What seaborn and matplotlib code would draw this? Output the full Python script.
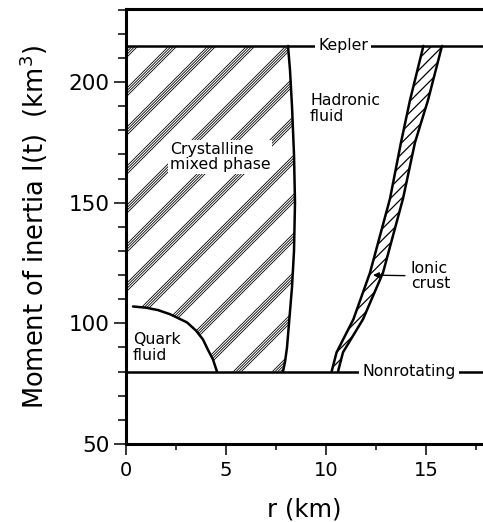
import numpy as np
import matplotlib.pyplot as plt
import seaborn as sns
from matplotlib.patches import Polygon
from matplotlib.ticker import MultipleLocator

# values
I_kepler = 215
I_nonrot = 80

# hadronic fluid / mixed phase boundary
hadron_I = [80, 84, 90, 100, 115, 130, 150, 170, 190, 205, 215]
hadron_r = [7.85, 7.95, 8.05, 8.15, 8.3, 8.4, 8.45, 8.4, 8.3, 8.2, 8.1]

# quark fluid boundary
quark_r = [0.35, 1.0, 1.6, 2.2, 3.05, 3.5, 3.85, 4.1, 4.35, 4.55]
quark_I = [107, 106.5, 105.5, 103.8, 100.4, 97, 93.3, 89, 85, 80]

# ionic crust (inner and outer edge)
crust_I = [80, 88, 101.7, 121, 151.7, 175, 192.5, 215]
crust_in = [10.28, 10.53, 11.37, 12.2, 13.2, 13.75, 14.2, 14.87]
crust_out = [10.6, 10.85, 11.85, 12.85, 13.85, 14.45, 15.1, 15.8]

sns.set_style("ticks")
plt.rcParams['font.family'] = ['DejaVu Sans']
plt.rcParams['hatch.linewidth'] = 0.9
for key in ['text.color', 'axes.labelcolor', 'xtick.color', 'ytick.color', 'axes.edgecolor']:
    plt.rcParams[key] = 'black'

W, H = 483, 522
fig = plt.figure(figsize=(W / 100, H / 100), dpi=100)
ax = fig.add_axes([126 / W, 78 / H, 357 / W, 435 / H])
xmax, ymin, ymax = 17.85, 50, 230.3
ax.set_xlim(0, xmax)
ax.set_ylim(ymin, ymax)

# crust: hatched band
ax.fill_betweenx(crust_I, crust_in, crust_out, facecolor='white', edgecolor='black',
                 hatch='///', linewidth=0)
sns.lineplot(x=crust_in, y=crust_I, sort=False, estimator=None, color='black', lw=1.8, ax=ax)
sns.lineplot(x=crust_out, y=crust_I, sort=False, estimator=None, color='black', lw=1.8, ax=ax)

# mixed phase region: groups of diagonal lines clipped to the region
verts = np.vstack([[[0, I_kepler]],
                   np.column_stack([hadron_r[::-1], hadron_I[::-1]]),
                   np.column_stack([quark_r[::-1], quark_I[::-1]]),
                   [[0, quark_I[0]]]])
region = Polygon(verts, closed=True, facecolor='none', edgecolor='none')
ax.add_patch(region)
px_r = 357 / xmax
px_I = 435 / (ymax - ymin)
k = px_r / px_I
for g in range(14):
    for j in range(4):
        c = (4 + g * 39 + j * 2.7) / px_r
        rr = np.array([c - 30, c + 2])
        ln, = ax.plot(rr, I_kepler + k * (rr - c), color='black', lw=0.6)
        ln.set_clip_path(region)

# boundaries
sns.lineplot(x=hadron_r, y=hadron_I, sort=False, estimator=None, color='black', lw=1.8, ax=ax)
sns.lineplot(x=quark_r, y=quark_I, sort=False, estimator=None, color='black', lw=1.8, ax=ax)
ax.axhline(I_kepler, color='black', lw=1.8)
ax.axhline(I_nonrot, color='black', lw=1.8)

fs = 11.3
box = dict(boxstyle='square,pad=0.2', facecolor='white', edgecolor='none')
ax.text(10.85, I_kepler, 'Kepler', ha='center', va='center', fontsize=fs, bbox=box)
ax.text(14.15, I_nonrot, 'Nonrotating', ha='center', va='center', fontsize=fs, bbox=box)
ax.text(9.2, 189, 'Hadronic\nfluid', ha='left', va='center', fontsize=fs, linespacing=1.05)
ax.text(2.2, 169, 'Crystalline\nmixed phase', ha='left', va='center', fontsize=fs,
        linespacing=1.05, bbox=dict(boxstyle='square,pad=0.1', facecolor='white', edgecolor='none'))
ax.text(0.35, 90, 'Quark\nfluid', ha='left', va='center', fontsize=fs, linespacing=1.05)
ax.annotate('Ionic\ncrust', xy=(12.35, 120), xytext=(14.25, 119.6), ha='left', va='center',
            fontsize=fs, linespacing=1.05,
            arrowprops=dict(arrowstyle='-|>,head_length=0.3,head_width=0.15', lw=1.0,
                            color='black', shrinkA=2, shrinkB=0))

# axes styling
ax.xaxis.set_major_locator(MultipleLocator(5))
ax.xaxis.set_minor_locator(MultipleLocator(2.5))
ax.yaxis.set_major_locator(MultipleLocator(50))
ax.yaxis.set_minor_locator(MultipleLocator(10))
ax.tick_params(axis='y', which='major', length=9, width=1.1, labelsize=15.5, pad=3)
ax.tick_params(axis='y', which='minor', length=5.5, width=1.1)
ax.tick_params(axis='x', which='major', length=8, width=1.1, labelsize=14, pad=4)
ax.tick_params(axis='x', which='minor', length=4.3, width=1.1)
for s in ['left', 'bottom', 'top']:
    ax.spines[s].set_linewidth(2.2)
ax.spines['right'].set_visible(False)

ax.set_xlabel('r (km)', fontsize=17.5)
ax.set_ylabel('Moment of inertia I(t)  (km$^3$)', fontsize=18.5)
ax.xaxis.set_label_coords(0.5, -0.122)
ax.yaxis.set_label_coords(-0.212, 0.5)

fig.savefig('out.png', dpi=100)
